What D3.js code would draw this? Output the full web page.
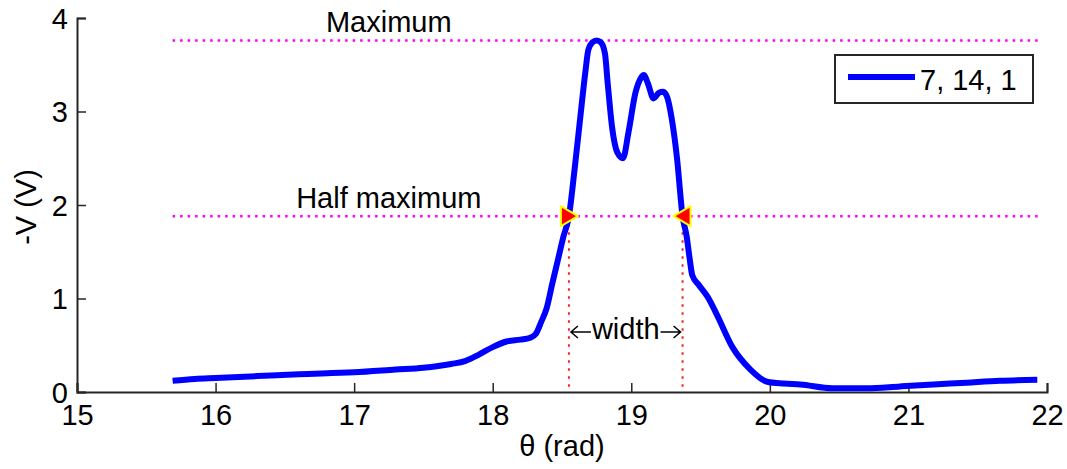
<!DOCTYPE html>
<html><head><meta charset="utf-8">
<script src="https://cdn.jsdelivr.net/npm/d3@7"></script>
<style>
html,body{margin:0;padding:0;background:#fff;}
svg{display:block;font-family:"Liberation Sans",Arial,sans-serif;}
</style></head>
<body><svg id="c" width="1067" height="469"></svg>
<script>
// ---- data ----
const thetaValues = [15.69,15.85,16.0,16.3,16.6,17.0,17.3,17.5,17.7,17.8,17.9,18.0,18.1,18.2,18.27,18.31,18.35,18.39,18.43,18.47,18.51,18.55,18.59,18.63,18.67,18.69,18.72,18.75,18.78,18.81,18.83,18.86,18.90,18.94,18.98,19.03,19.07,19.09,19.12,19.16,19.20,19.23,19.26,19.29,19.33,19.37,19.40,19.42,19.44,19.49,19.55,19.62,19.73,19.86,19.98,20.1,20.22,20.45,20.70,20.94,21.18,21.42,21.66,21.93];
const voltageValues = [0.12,0.14,0.15,0.17,0.19,0.21,0.24,0.26,0.30,0.33,0.40,0.48,0.54,0.56,0.58,0.62,0.75,0.90,1.16,1.41,1.66,1.88,2.37,2.91,3.44,3.66,3.74,3.76,3.74,3.62,3.30,2.85,2.56,2.50,2.78,3.20,3.36,3.39,3.30,3.14,3.20,3.21,3.15,2.94,2.50,1.88,1.66,1.44,1.25,1.14,1.02,0.82,0.48,0.24,0.11,0.09,0.08,0.04,0.04,0.06,0.08,0.10,0.12,0.13];
const seriesName = "7, 14, 1";
const xTicks = [15,16,17,18,19,20,21,22];
const yTicks = [0,1,2,3,4];
const maxValue = 3.76;
const halfMax = maxValue / 2;
const halfMaxThetas = [18.55, 19.37];
const refLineRange = [15.69, 21.95];
const refLabelTheta = 17.25;
const refLabels = ["Maximum", "Half maximum"];
const xLabel = "θ (rad)";
const yLabel = "-V (V)";

// ---- chart ----
const svg = d3.select("#c");
const FS = 29;
const x = d3.scaleLinear().domain([15,22]).range([77,1047]);
const y = d3.scaleLinear().domain([0,4]).range([392,18]);
const axisColor = "#262626";

// axes
const xAxis = svg.append("g").attr("transform","translate(0,392)")
  .call(d3.axisBottom(x).tickValues(xTicks).tickSize(-9).tickFormat(d3.format("d")));
const yAxis = svg.append("g").attr("transform","translate(77,0)")
  .call(d3.axisLeft(y).tickValues(yTicks).tickSize(-9).tickFormat(d3.format("d")));
[xAxis,yAxis].forEach(g=>{
  g.select(".domain").attr("stroke",axisColor).attr("stroke-width",2);
  g.selectAll(".tick line").attr("stroke",axisColor).attr("stroke-width",1.5);
  g.selectAll("text").attr("font-size",FS).attr("fill","#000").attr("font-family","Liberation Sans, Arial, sans-serif");
});
xAxis.selectAll(".tick text").attr("y",33).attr("dy",0);
yAxis.selectAll(".tick text").attr("x",-9).attr("dy","0.35em");

// reference lines
const refYs = [maxValue, halfMax];
svg.selectAll(".refline").data(refYs).enter().append("line")
  .attr("x1",x(refLineRange[0])).attr("x2",x(refLineRange[1]))
  .attr("y1",d=>y(d)).attr("y2",d=>y(d))
  .attr("stroke","#ff00ff").attr("stroke-width",2.5).attr("stroke-dasharray","2.5,5");
svg.selectAll(".reflabel").data(refLabels).enter().append("text")
  .attr("x",x(refLabelTheta)).attr("y",(d,i)=>y(refYs[i])-8)
  .attr("text-anchor","middle").attr("font-size",FS).text(d=>d);

// vertical red dotted lines
svg.selectAll(".vline").data(halfMaxThetas).enter().append("line")
  .attr("x1",d=>x(d)).attr("x2",d=>x(d)).attr("y1",y(halfMax)).attr("y2",y(0))
  .attr("stroke","#ff2020").attr("stroke-width",2).attr("stroke-dasharray","2.5,5.5");

// curve
const pts = thetaValues.map((t,i)=>[t,voltageValues[i]]);
svg.append("path").datum(pts)
  .attr("fill","none").attr("stroke","#0000ff").attr("stroke-width",6)
  .attr("stroke-linejoin","round").attr("stroke-linecap","butt")
  .attr("d", d3.line().x(d=>x(d[0])).y(d=>y(d[1])).curve(d3.curveMonotoneX));

// triangle markers
halfMaxThetas.forEach((t,i)=>{
  const cx = x(t), cy = y(halfMax), dir = i===0 ? 1 : -1;
  const p = [[cx-8*dir,cy-10],[cx+9*dir,cy],[cx-8*dir,cy+10]];
  svg.append("path").attr("d","M"+p.map(q=>q.join(",")).join("L")+"Z")
    .attr("fill","#ff0000").attr("stroke","#ffff00").attr("stroke-width",2).attr("stroke-linejoin","round");
});

// width annotation
const wy = 332, xl = x(halfMaxThetas[0]), xr = x(halfMaxThetas[1]);
svg.append("text").attr("x",(xl+xr)/2).attr("y",wy+7).attr("text-anchor","middle")
  .attr("font-size",FS).text("width");
const arr = svg.append("g").attr("stroke","#000").attr("stroke-width",1.5).attr("fill","none");
arr.append("path").attr("d",`M${xl+2},${wy}L${xl+22},${wy}M${xl+9},${wy-6}L${xl+2},${wy}L${xl+9},${wy+6}`);
arr.append("path").attr("d",`M${xr-2},${wy}L${xr-22},${wy}M${xr-9},${wy-6}L${xr-2},${wy}L${xr-9},${wy+6}`);

// axis labels
svg.append("text").attr("x",(77+1047)/2).attr("y",456).attr("text-anchor","middle")
  .attr("font-size",FS).text(xLabel);
svg.append("text").attr("transform","translate(36,207) rotate(-90)").attr("text-anchor","middle")
  .attr("font-size",FS).text(yLabel);

// legend
const lg = svg.append("g");
lg.append("rect").attr("x",835).attr("y",55).attr("width",198).attr("height",48)
  .attr("fill","#fff").attr("stroke",axisColor).attr("stroke-width",2);
lg.append("line").attr("x1",848).attr("x2",915).attr("y1",77).attr("y2",77)
  .attr("stroke","#0000ff").attr("stroke-width",6);
lg.append("text").attr("x",920).attr("y",90).attr("font-size",FS).text(seriesName);
</script></body></html>
